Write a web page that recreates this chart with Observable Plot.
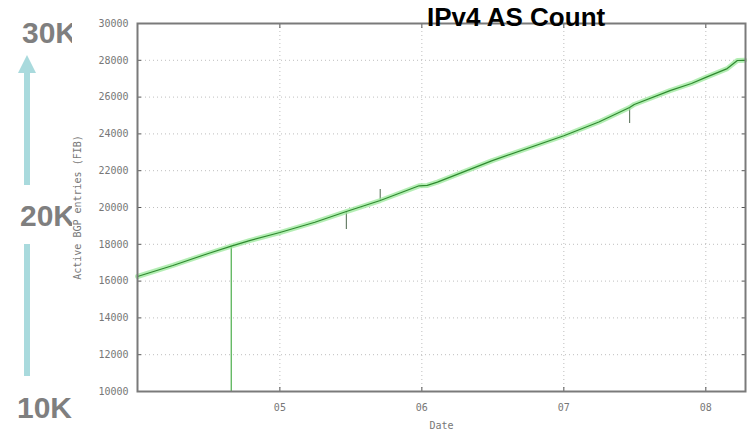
<!DOCTYPE html>
<html>
<head>
<meta charset="utf-8">
<script src="https://cdn.jsdelivr.net/npm/d3@7"></script>
<script src="https://cdn.jsdelivr.net/npm/@observablehq/plot@0.6"></script>
<style>
  html, body { margin: 0; padding: 0; background: #fff; }
  #wrap { position: relative; width: 750px; height: 433px; overflow: hidden; }
  .big { position: absolute; font-family: "Liberation Sans", Arial, sans-serif; font-weight: bold; color: #7f7f7f; font-size: 30px; line-height: 1; z-index: 0; }
  #cover { position: absolute; left: 72px; top: 0; width: 678px; height: 392px; background: #fff; z-index: 1; }
  #chart { position: absolute; left: 0; top: 0; z-index: 2; }
  #chart svg { background: transparent !important; }
  #title { position: absolute; left: 427px; top: 4px; font-family: "Liberation Sans", Arial, sans-serif; font-weight: bold; font-size: 26px; color: #000; z-index: 3; line-height: 1; }
  .shaft { position: absolute; left: 24px; width: 6px; background: #a9dadd; z-index: 0; }
  .head { position: absolute; left: 18px; top: 55px; width: 0; height: 0; border-left: 9px solid transparent; border-right: 9px solid transparent; border-bottom: 18px solid #a9dadd; z-index: 0; }
</style>
</head>
<body>
<div id="wrap">
  <div class="big" style="left:22px; top:18px;">30K</div>
  <div class="big" style="left:20px; top:201px;">20K</div>
  <div class="big" style="left:17px; top:393px;">10K</div>
  <div class="head"></div>
  <div class="shaft" style="top:72px; height:113px;"></div>
  <div class="shaft" style="top:244px; height:132px;"></div>
  <div id="cover"></div>
  <div id="chart"></div>
  <div id="title">IPv4 AS Count</div>
</div>
<script>
// Series: active BGP entries (IPv4 AS count)
const dates = ["2004-01-01","2004-04-01","2004-07-01","2004-08-29","2004-10-15","2005-01-01","2005-04-01","2005-06-21","2005-09-16","2005-12-25","2006-01-15","2006-02-10","2006-07-01","2007-01-01","2007-04-01","2007-06-19","2007-07-01","2007-10-01","2007-11-25","2008-01-01","2008-02-25","2008-03-22","2008-04-10"];
const values = [16250,16850,17500,17900,18200,18640,19200,19780,20380,21180,21200,21380,22550,23900,24650,25435,25600,26350,26740,27070,27550,27990,28000];

// Glitch spikes in the series
const spikeDates = ["2004-08-29","2005-06-21","2005-09-16","2007-06-19"];
const spikeFrom  = [17900, 19780, 20380, 25435];
const spikeTo    = [10000, 18800, 20980, 24565];
const spikeKind  = ["drop","glitch","glitch","glitch"];

// Axes
const xDomain = ["2004-01-01","2008-04-12"];
const xTickDates = ["2005-01-01","2006-01-01","2007-01-01","2008-01-01"];
const xTickLabels = ["05","06","07","08"];
const yTicks = [10000,12000,14000,16000,18000,20000,22000,24000,26000,28000,30000];

const series = dates.map((d, i) => ({date: new Date(d), value: values[i]}));
const spikes = spikeDates.map((d, i) => ({date: new Date(d), y1: spikeFrom[i], y2: spikeTo[i], kind: spikeKind[i]}));
const xTicks = xTickDates.map(d => new Date(d));
const fmtX = d => xTickLabels[xTicks.findIndex(t => +t === +d)];

const font = "DejaVu Sans Mono, monospace";

const chart = Plot.plot({
  width: 750,
  height: 433,
  marginLeft: 137,
  marginRight: 5,
  marginTop: 23,
  marginBottom: 42,
  style: {background: "transparent", fontFamily: font, fontSize: "10px", color: "#666"},
  x: {type: "utc", domain: xDomain.map(d => new Date(d))},
  y: {domain: [10000, 30000]},
  marks: [
    Plot.gridY(yTicks.filter(v => v > 10000 && v < 30000), {stroke: "#888", strokeOpacity: 0.55, strokeDasharray: "1,3"}),
    Plot.gridX(xTicks, {stroke: "#888", strokeOpacity: 0.55, strokeDasharray: "1,3"}),
    Plot.axisY({ticks: yTicks, tickSize: -4, tickPadding: 13, tickFormat: d => String(d), stroke: "#555", fill: "#777",
      label: "Active BGP entries (FIB)", labelAnchor: "center", labelOffset: 64, labelArrow: "none"}),
    Plot.axisY({anchor: "right", ticks: yTicks, tickSize: -4, tickFormat: () => "", label: null, stroke: "#555"}),
    Plot.axisX({ticks: xTicks, tickSize: -4, tickPadding: 16, tickFormat: fmtX, stroke: "#555", fill: "#777",
      label: "Date", labelAnchor: "center", labelOffset: 37, labelArrow: "none"}),
    Plot.axisX({anchor: "top", ticks: xTicks, tickSize: -4, tickFormat: () => "", label: null, stroke: "#555"}),
    Plot.ruleX(spikes.filter(s => s.kind === "drop"), {x: "date", y1: "y1", y2: "y2", stroke: "#4cae4c", strokeWidth: 1.2}),
    Plot.ruleX(spikes.filter(s => s.kind === "glitch"), {x: "date", y1: "y1", y2: "y2", stroke: "#6a806a", strokeWidth: 1.2}),
    Plot.line(series, {x: "date", y: "value", stroke: "#9be89b", strokeWidth: 5, strokeOpacity: 0.75}),
    Plot.line(series, {x: "date", y: "value", stroke: "#2f8a2f", strokeWidth: 1.2}),
    Plot.frame({stroke: "#7a7a7a", strokeWidth: 2})
  ]
});
document.getElementById("chart").appendChild(chart);
</script>
</body>
</html>
